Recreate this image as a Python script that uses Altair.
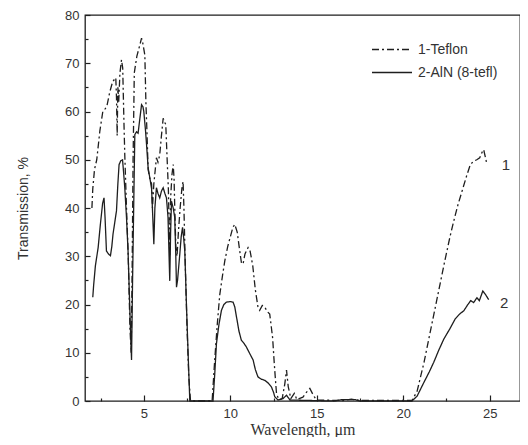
import altair as alt
import pandas as pd

# ---- data ----
teflon_x = [2.0, 2.05, 2.15, 2.28, 2.46, 2.63, 2.75, 2.86, 3.03, 3.2, 3.38, 3.42, 3.46, 3.5, 3.55, 3.62, 3.71, 3.78,
            3.85, 3.9, 4.0, 4.1, 4.2, 4.27, 4.32, 4.38, 4.45, 4.6, 4.75, 4.87, 4.95, 5.06, 5.12, 5.18, 5.25, 5.35,
            5.45, 5.5, 5.58, 5.73, 5.82, 5.92, 6.02, 6.12, 6.2, 6.27, 6.35, 6.42, 6.5, 6.55, 6.63, 6.7, 6.75, 6.79,
            6.85, 6.92, 7.0, 7.1, 7.2, 7.27, 7.32, 7.4, 7.5, 7.6, 7.7, 8.95, 9.1, 9.25, 9.39, 9.55, 9.68, 9.85,
            10.0, 10.15, 10.26, 10.4, 10.55, 10.65, 10.74, 10.85, 11.03, 11.15, 11.3, 11.45, 11.6, 11.7, 11.85,
            12.0, 12.15, 12.28, 12.35, 12.45, 12.52, 12.57, 12.67, 12.8, 13.0, 13.15, 13.25, 13.35, 13.5, 13.7,
            13.85, 14.2, 14.4, 14.6, 14.8, 14.98, 16.5, 17.0, 17.5, 20.5, 20.8, 21.2, 21.6, 22.0, 22.4, 22.7,
            22.92, 23.15, 23.4, 23.65, 23.88, 24.07, 24.25, 24.42, 24.55, 24.65, 24.75, 24.84]
teflon_y = [40.0, 44, 48, 50, 56, 60, 60.5, 61, 64, 66.2, 67, 63, 55, 65, 62, 68, 70.7, 69,
            58, 51, 40, 30, 15, 10, 25, 50, 68, 71.5, 73.5, 75.2, 74, 71.7, 62, 56, 48, 46,
            45, 40, 45, 50.4, 49.5, 51, 55, 58.6, 57.8, 57.3, 50, 44, 30, 42, 47, 49, 46, 40,
            32, 30, 35, 40, 44, 45.5, 40, 28, 15, 5, 0, 0, 8.5, 16, 22, 26, 29, 32,
            34, 36, 36.6, 35, 31, 28.5, 28.4, 30.5, 31.8, 31, 28, 23, 19.5, 18.8, 19.8,
            19.4, 18.5, 18, 16, 13, 9, 6.4, 1.6, 0.3, 0.5, 3.5, 6.4, 3, 0.5, 1.6,
            0.3, 0.8, 1.8, 2.6, 1.2, 0.2, 0.1, 0.4, 0.1, 0.1, 2, 8, 15, 22, 29, 34,
            37.3, 40.5, 43.5, 46.5, 49, 49.7, 50, 50.4, 51.5, 52.1, 50.5, 49]

aln_x = [2.05, 2.1, 2.2, 2.36, 2.5, 2.62, 2.7, 2.76, 2.84, 2.95, 3.07, 3.15, 3.22, 3.32, 3.42, 3.5, 3.57, 3.67,
         3.77, 3.84, 3.9, 4.0, 4.09, 4.2, 4.29, 4.35, 4.42, 4.48, 4.58, 4.67, 4.77, 4.87, 4.95, 5.0, 5.1, 5.16,
         5.25, 5.35, 5.45, 5.52, 5.58, 5.64, 5.73, 5.82, 5.92, 6.02, 6.12, 6.22, 6.31, 6.4, 6.5, 6.55, 6.6,
         6.7, 6.79, 6.85, 6.89, 6.95, 7.08, 7.16, 7.24, 7.3, 7.37, 7.47, 7.57, 7.66, 9.0, 9.1, 9.2, 9.35,
         9.49, 9.63, 9.78, 10.0, 10.16, 10.26, 10.36, 10.5, 10.64, 10.78, 10.93, 11.1, 11.32, 11.45, 11.6,
         11.8, 11.99, 12.2, 12.38, 12.5, 12.57, 12.76, 13.05, 13.25, 13.45, 16.0, 16.5, 17.2, 17.5, 20.5,
         20.8, 21.2, 21.5, 21.76, 22.05, 22.34, 22.7, 23.0, 23.25, 23.5, 23.7, 23.9, 24.07, 24.26, 24.4,
         24.5, 24.6, 24.75, 24.94]
aln_y = [21.5, 24, 28, 31.8, 37, 41, 42.1, 38, 31.1, 30.5, 30.1, 32, 34.6, 37, 39.4, 45, 49, 49.8,
         50, 47, 44.2, 38, 31, 18, 8.5, 25, 41.4, 55.2, 55.8, 55.5, 58.5, 61.4, 61, 60, 56, 53.1,
         48.3, 46.2, 44, 38, 32.5, 40, 44.2, 43, 42.1, 43.5, 44.2, 43, 42.1, 38, 24.9, 35, 41.4,
         40, 38, 30, 23.6, 25, 30.4, 34, 36, 34, 31, 19.4, 9, 0, 0, 5.5, 11.9, 16,
         18.8, 20, 20.5, 20.6, 20.5, 19.5, 17.4, 14.5, 12.6, 12, 11.2, 10, 8.5, 6.5, 5,
         4.5, 4.3, 3.7, 2.9, 1.8, 0.9, 0.2, 0.5, 1.2, 0.2, 0, 0.3, 0.3, 0, 0,
         1, 3.9, 6, 8, 10.5, 12.8, 15, 17, 18, 18.7, 19.8, 20.8, 20.4, 21.4, 20.8,
         21.8, 22.8, 22.1, 21]

series_names = ["1-Teflon", "2-AlN (8-tefl)"]
curve_labels = ["1", "2"]
curve_label_x = [25.7, 25.6]
curve_label_y = [49, 20.4]

x_major = [5, 10, 15, 20, 25]
x_minor = [2.5, 7.5, 12.5, 17.5, 22.5]
y_major = [0, 10, 20, 30, 40, 50, 60, 70, 80]
y_minor = [5, 15, 25, 35, 45, 55, 65, 75]

# ---- tables ----
df = pd.concat([
    pd.DataFrame({"x": teflon_x, "y": teflon_y, "series": series_names[0], "i": range(len(teflon_x))}),
    pd.DataFrame({"x": aln_x, "y": aln_y, "series": series_names[1], "i": range(len(aln_x))}),
])
lab = pd.DataFrame({"x": curve_label_x, "y": curve_label_y, "t": curve_labels})

INK = "#1e1e1e"
TXT = "#333333"
xscale = alt.Scale(domain=[1.6, 26.75], nice=False, zero=False)
yscale = alt.Scale(domain=[0, 80], nice=False)

lines = alt.Chart(df).mark_line(strokeWidth=1.3).encode(
    x=alt.X("x:Q", scale=xscale,
            axis=alt.Axis(values=x_major, tickSize=6, offset=-6, domain=False, grid=False,
                          orient="bottom", labelPadding=6, title="Wavelength, \u03bcm",
                          titleFont="Liberation Serif", titleFontSize=16, titleFontWeight="normal",
                          titlePadding=1, titleColor=TXT)),
    y=alt.Y("y:Q", scale=yscale,
            axis=alt.Axis(values=y_major, tickSize=5, offset=-5, domain=False, grid=False,
                          orient="left", labelPadding=6, title="Transmission, %",
                          titleFont="Liberation Sans", titleFontSize=14, titleFontWeight="normal",
                          titlePadding=34, titleColor=TXT)),
    color=alt.Color("series:N",
                    scale=alt.Scale(domain=series_names, range=[INK, INK]),
                    legend=alt.Legend(title=None, orient="none", legendX=286, legendY=26,
                                      symbolType="stroke", symbolSize=1600, symbolStrokeWidth=1.3,
                                      labelFontSize=14, labelFont="Liberation Sans", labelColor=TXT,
                                      labelOffset=5, clipHeight=17, rowPadding=6, padding=0)),
    strokeDash=alt.StrokeDash("series:N",
                              scale=alt.Scale(domain=series_names, range=[[7, 3, 2, 3], [1, 0]]),
                              legend=None),
    order="i:Q",
)

minor = alt.Chart(df).mark_line(opacity=0).encode(
    x=alt.X("x:Q", scale=xscale,
            axis=alt.Axis(values=x_minor, tickSize=3, offset=-3, domain=False, grid=False,
                          labels=False, orient="bottom", title=None)),
    y=alt.Y("y:Q", scale=yscale,
            axis=alt.Axis(values=y_minor, tickSize=3, offset=-3, domain=False, grid=False,
                          labels=False, orient="left", title=None)),
    detail="series:N",
)

texts = alt.Chart(lab).mark_text(align="left", baseline="middle", fontSize=15,
                                 font="Liberation Sans", color=TXT).encode(
    x=alt.X("x:Q", scale=xscale, axis=None), y=alt.Y("y:Q", scale=yscale, axis=None), text="t:N")

chart = alt.layer(lines, minor, texts).resolve_axis(x="independent", y="independent").properties(
    width=435, height=386,
    autosize=alt.AutoSizeParams(type="none"),
    padding={"left": 77, "top": 7, "right": 0, "bottom": 36},
).configure_view(stroke=INK, strokeWidth=1.3).configure_axis(
    labelFont="Liberation Sans", labelFontSize=13, labelColor=TXT,
    tickColor=INK, tickWidth=1.2,
)

chart.save("out.html", embed_options={"renderer": "svg", "actions": False})
